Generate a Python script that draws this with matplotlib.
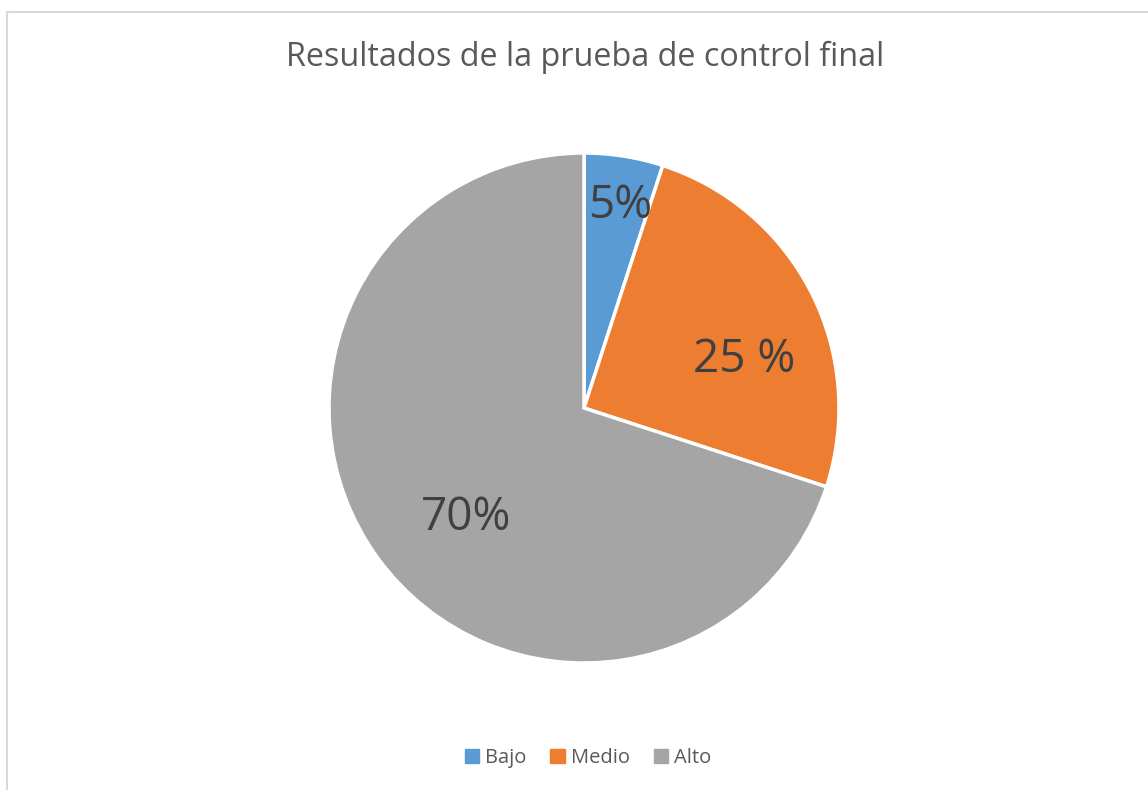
import numpy as np
import matplotlib.pyplot as plt
from matplotlib.lines import Line2D

categorias = ["Bajo", "Medio", "Alto"]
valores = [5, 25, 70]
etiquetas = ["5%", "25 %", "70%"]
colores = ["#5B9BD5", "#ED7D31", "#A5A5A5"]

plt.rcParams['font.family'] = ['Open Sans', 'DejaVu Sans']

W, H = 1148, 790
fig = plt.figure(figsize=(W / 100, H / 100), dpi=100)

# pie area (centre ~ (584,408), radius ~255 px)
cx, cy, R = 584, 408, 255
ax = fig.add_axes([(cx - R) / W, 1 - (cy + R) / H, 2 * R / W, 2 * R / H])
wedges, _ = ax.pie(valores, colors=colores, startangle=90, counterclock=False,
                   radius=1.0, wedgeprops=dict(edgecolor="white", linewidth=2.5))
ax.set_xlim(-1, 1)
ax.set_ylim(-1, 1)
ax.set_aspect("equal")
ax.axis("off")

# data labels, placed inside each slice
dist = [0.82, 0.66, 0.62]
desv = [-1, -9, 6]
for w, txt, d, o in zip(wedges, etiquetas, dist, desv):
    ang = np.deg2rad((w.theta1 + w.theta2) / 2 + o)
    ax.text(d * np.cos(ang), d * np.sin(ang) - 0.015, txt, ha="center", va="center",
            fontsize=33, color="#404040")

fig.text(585 / W, 1 - 57 / H, "Resultados de la prueba de control final",
         ha="center", va="center", fontsize=23.3, color="#595959")

handles = [plt.Rectangle((0, 0), 1, 1, color=c) for c in colores]
fig.legend(handles, categorias, loc="center", bbox_to_anchor=(588 / W, 1 - 758 / H),
           ncol=3, frameon=False, fontsize=14.5, handlelength=0.7, handleheight=0.7,
           handletextpad=0.3, columnspacing=1.2, labelcolor="#595959")

# chart area border (only top and left visible)
borde = "#D9D9D9"
fig.add_artist(Line2D([7 / W, 1], [1 - 12 / H, 1 - 12 / H], color=borde, lw=1.5))
fig.add_artist(Line2D([7 / W, 7 / W], [0, 1 - 12 / H], color=borde, lw=1.5))

fig.savefig("out.png", dpi=100, facecolor="white")
